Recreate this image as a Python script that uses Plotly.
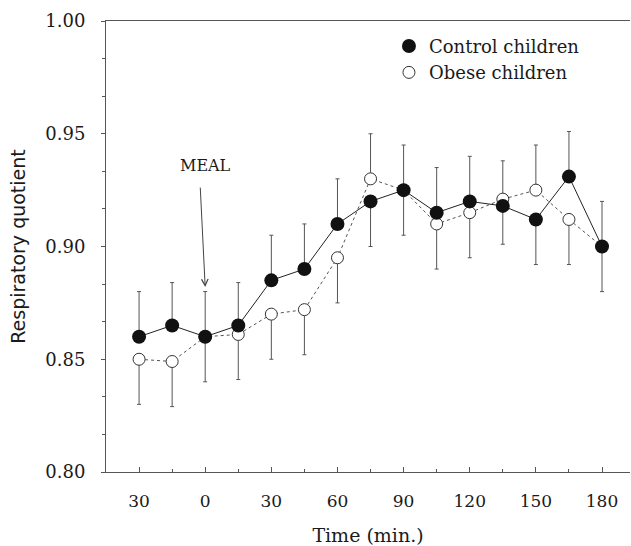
import plotly.graph_objects as go

# ---- data ----
time_min = [-30, -15, 0, 15, 30, 45, 60, 75, 90, 105, 120, 135, 150, 165, 180]

control_rq = [0.860, 0.865, 0.860, 0.865, 0.885, 0.890, 0.910, 0.920, 0.925,
              0.915, 0.920, 0.918, 0.912, 0.931, 0.900]
control_err_up = [0.020, 0.019, 0.020, 0.019, 0.020, 0.020, 0.020, 0.000, 0.020,
                  0.020, 0.020, 0.000, 0.000, 0.020, 0.020]
control_err_down = [0.000, 0.000, 0.020, 0.000, 0.000, 0.000, 0.000, 0.020, 0.020,
                    0.000, 0.000, 0.017, 0.020, 0.000, 0.020]

obese_rq = [0.850, 0.849, 0.860, 0.861, 0.870, 0.872, 0.895, 0.930, 0.925,
            0.910, 0.915, 0.921, 0.925, 0.912, 0.900]
obese_err_up = [0.000, 0.000, 0.000, 0.000, 0.000, 0.000, 0.000, 0.020, 0.000,
                0.000, 0.000, 0.017, 0.020, 0.000, 0.000]
obese_err_down = [0.020, 0.020, 0.000, 0.020, 0.020, 0.020, 0.020, 0.000, 0.000,
                  0.020, 0.020, 0.000, 0.000, 0.020, 0.000]

x_tickvals = [-30, 0, 30, 60, 90, 120, 150, 180]
x_ticktext = ["30", "0", "30", "60", "90", "120", "150", "180"]
y_tickvals = [0.80, 0.85, 0.90, 0.95, 1.00]
y_ticktext = ["0.80", "0.85", "0.90", "0.95", "1.00"]

meal_time = 0
meal_arrow_tip = 0.882
meal_label_y = 0.936

SERIF = "DejaVu Serif"
SANS = "DejaVu Sans"
INK = "#1a1a1a"
AXIS = "#555555"

fig = go.Figure()

# connecting lines
fig.add_trace(go.Scatter(x=time_min, y=obese_rq, mode="lines",
                         line=dict(color="#555555", width=1, dash="dot"),
                         showlegend=False, hoverinfo="skip"))
fig.add_trace(go.Scatter(x=time_min, y=control_rq, mode="lines",
                         line=dict(color="#222222", width=1),
                         showlegend=False, hoverinfo="skip"))

# markers with error bars
fig.add_trace(go.Scatter(
    x=time_min, y=obese_rq, mode="markers", name="Obese children",
    legendrank=2,
    marker=dict(symbol="circle", size=12, color="white",
                line=dict(color="#333333", width=1)),
    error_y=dict(type="data", symmetric=False, array=obese_err_up,
                 arrayminus=obese_err_down, color="#555555", thickness=1, width=2),
))
fig.add_trace(go.Scatter(
    x=time_min, y=control_rq, mode="markers", name="Control children",
    legendrank=1,
    marker=dict(symbol="circle", size=14, color="#111111",
                line=dict(color="#111111", width=0)),
    error_y=dict(type="data", symmetric=False, array=control_err_up,
                 arrayminus=control_err_down, color="#555555", thickness=1, width=2),
))

# MEAL label and arrow
fig.add_annotation(x=meal_time, y=meal_label_y, xref="x", yref="y", text="MEAL",
                   showarrow=False, font=dict(family=SERIF, size=16, color=INK))
fig.add_annotation(x=meal_time, y=meal_arrow_tip, xref="x", yref="y", text="",
                   showarrow=True, ax=-5, ay=-101, arrowhead=5, arrowsize=1.3,
                   arrowwidth=1, arrowcolor="#444444", standoff=0)

fig.update_layout(
    width=631, height=546,
    margin=dict(l=106, r=1, t=21, b=74, autoexpand=False),
    paper_bgcolor="white", plot_bgcolor="white",
    font=dict(family=SERIF, size=17, color=INK),
    legend=dict(x=0.54, y=0.985, xanchor="left", yanchor="top",
                traceorder="normal", bgcolor="rgba(0,0,0,0)",
                font=dict(family=SERIF, size=18, color=INK),
                itemwidth=30),
    showlegend=True,
)
fig.update_xaxes(
    range=[-45, 192.7], showgrid=False, zeroline=False, automargin=False,
    showline=True, linecolor=AXIS, linewidth=1, mirror=True,
    ticks="inside", ticklen=5, tickcolor=AXIS,
    tickvals=x_tickvals, ticktext=x_ticktext, ticklabelstandoff=14,
    tickfont=dict(family=SERIF, size=17, color=INK),
    minor=dict(ticks="inside", ticklen=3, dtick=15, tick0=-45, tickcolor=AXIS),
    title=dict(text="Time (min.)", font=dict(family=SERIF, size=19, color=INK),
               standoff=19),
)
fig.update_yaxes(
    range=[0.80, 1.00], showgrid=False, zeroline=False, automargin=False,
    showline=True, linecolor=AXIS, linewidth=1, mirror=False,
    ticks="outside", ticklen=4, tickcolor=AXIS,
    tickvals=y_tickvals, ticktext=y_ticktext, ticklabelstandoff=12,
    tickfont=dict(family=SERIF, size=18, color=INK),
    minor=dict(ticks="outside", ticklen=3, dtick=0.05 / 3, tick0=0.80, tickcolor=AXIS),
    title=dict(text="Respiratory quotient", font=dict(family=SANS, size=19, color=INK),
               standoff=14),
)

fig.write_html("out.html", config={"displayModeBar": False},
               post_script="document.body.style.margin='0px';")
